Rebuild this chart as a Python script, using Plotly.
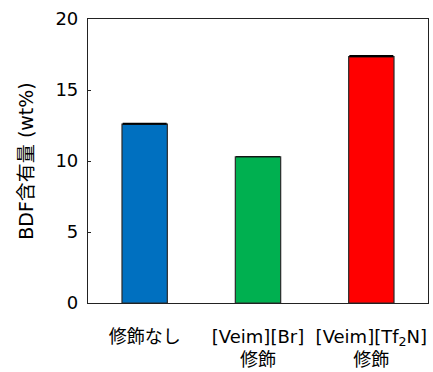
import plotly.graph_objects as go

categories = ["修飾なし", "[Veim][Br]<br>修飾", "[Veim][Tf<sub>2</sub>N]<br>修飾"]
values = [12.6, 10.3, 17.35]
errors = [0.05, None, 0.07]
colors = ["#0070C0", "#00B050", "#FF0000"]
y_ticks = [0, 5, 10, 15, 20]

FONT = "DejaVu Sans, Noto Sans CJK JP, sans-serif"

fig = go.Figure()
fig.add_trace(go.Bar(
    x=categories,
    y=values,
    width=0.4,
    marker=dict(color=colors, line=dict(color="#2a2a2a", width=1.2)),
    error_y=dict(type="data", array=errors, symmetric=False, arrayminus=[0, None, 0],
                 color="black", thickness=1.2, width=22),
))

fig.update_layout(
    width=433, height=372,
    margin=dict(l=88, r=5, t=19, b=69, autoexpand=False),
    paper_bgcolor="white", plot_bgcolor="white",
    font=dict(family=FONT, size=18, color="black"),
    showlegend=False,
)
fig.update_xaxes(
    showline=True, linecolor="#222", linewidth=1.2, mirror=True,
    ticks="", ticklabelstandoff=17, automargin=False,
    tickfont=dict(size=18),
)
fig.update_yaxes(
    range=[0, 20], tickvals=y_ticks,
    showline=True, linecolor="#222", linewidth=1.2, mirror=True,
    ticks="inside", ticklen=3, tickcolor="#222",
    showgrid=False, zeroline=False, automargin=False,
    ticklabelstandoff=5,
    title=dict(text="BDF含有量 (wt%)", font=dict(size=19), standoff=16),
)
fig.write_html(
    "out.html",
    config={"displayModeBar": False},
    post_script="document.body.style.margin='0';document.body.style.overflow='hidden';",
)
